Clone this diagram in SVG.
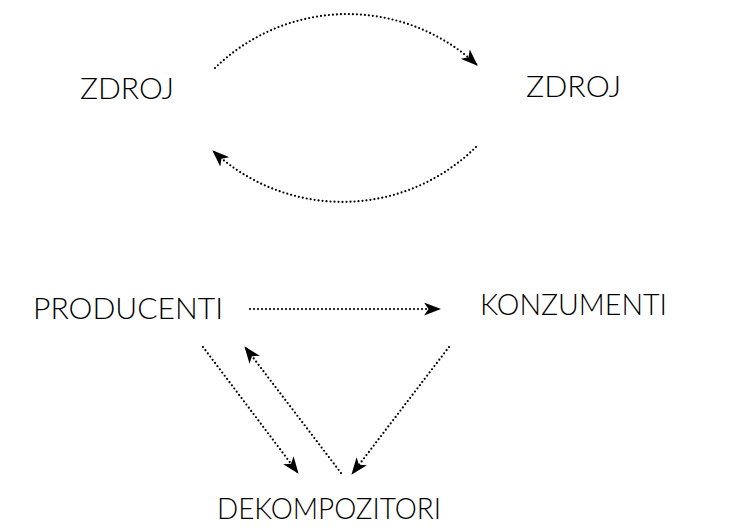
<svg xmlns="http://www.w3.org/2000/svg" width="745" height="531" viewBox="0 0 745 531">
<style>
.lbl{font-family:Lato,"Liberation Sans",Arial,sans-serif;font-weight:300;font-size:30px;fill:#000;}
.c{fill:none;stroke:#000;stroke-width:2.2;stroke-dasharray:0 4;stroke-linecap:round;marker-end:url(#ah);}
</style>
<defs>
<marker id="ah" viewBox="0 0 17 13" refX="16" refY="6.5" markerWidth="17" markerHeight="13" markerUnits="userSpaceOnUse" orient="auto">
<path d="M0,0 L17,6.5 L0,13 L4.5,6.5 z" fill="#000"/>
</marker>
</defs>
<rect width="745" height="531" fill="#fff"/>
<g id="connectors">
<path class="c" d="M215,68 A190,190 0 0 1 477,65"/>
<path class="c" d="M476,147 A190,190 0 0 1 213,151"/>
<path class="c" d="M250,309 L440,309"/>
<path class="c" d="M203,347 L298,473"/>
<path class="c" d="M341,473 L245,347"/>
<path class="c" d="M449,347 L352,474"/>
</g>
<g id="zdroj1"><text class="lbl" x="80" y="99" textLength="94" lengthAdjust="spacingAndGlyphs">ZDROJ</text></g>
<g id="zdroj2"><text class="lbl" x="526" y="97" textLength="95" lengthAdjust="spacingAndGlyphs">ZDROJ</text></g>
<g id="producenti"><text class="lbl" x="33" y="319" textLength="190" lengthAdjust="spacingAndGlyphs">PRODUCENTI</text></g>
<g id="konzumenti"><text class="lbl" x="480" y="315" textLength="187" lengthAdjust="spacingAndGlyphs">KONZUMENTI</text></g>
<g id="dekompozitori"><text class="lbl" x="217" y="519" textLength="224" lengthAdjust="spacingAndGlyphs">DEKOMPOZITORI</text></g>
</svg>
